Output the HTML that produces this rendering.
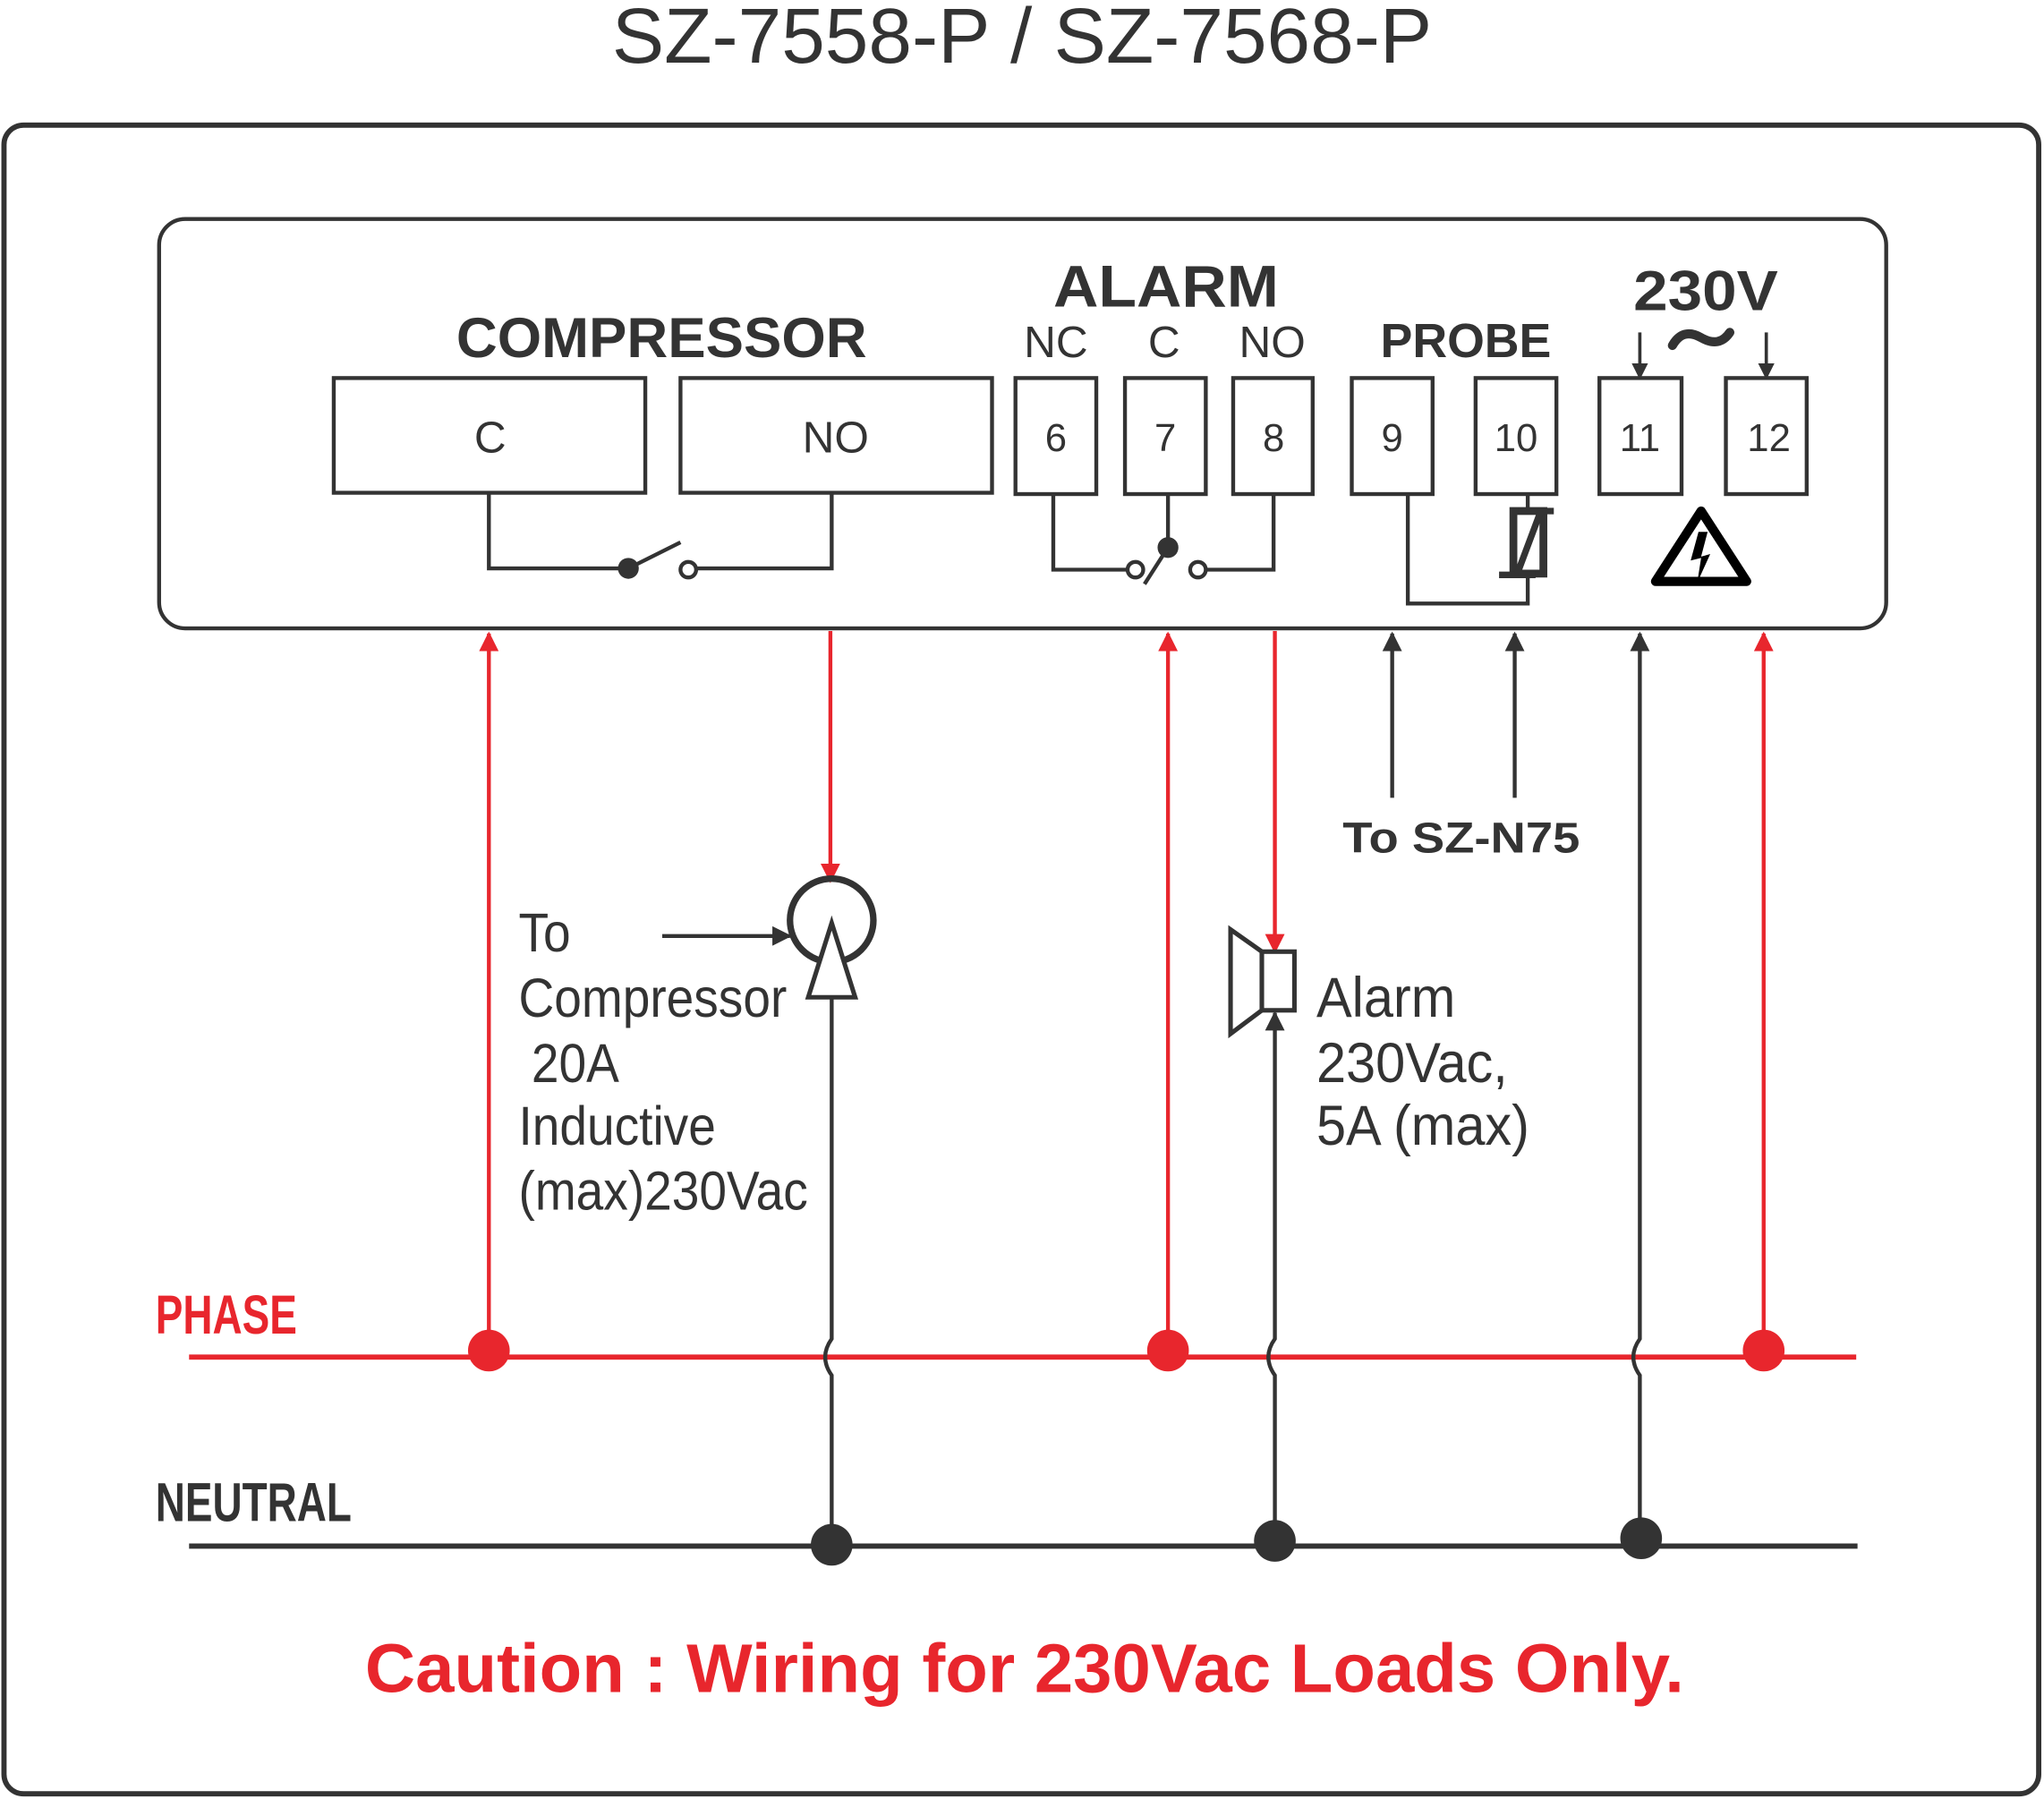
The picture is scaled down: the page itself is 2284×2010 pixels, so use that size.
<!DOCTYPE html>
<html><head><style>html,body{margin:0;padding:0;background:#fff}svg{display:block}</style></head>
<body>
<svg width="2284" height="2010" viewBox="0 0 1568 1380" xmlns="http://www.w3.org/2000/svg" font-family="Liberation Sans, sans-serif">
<defs>
<marker id="ar" viewBox="0 0 10 10" refX="9" refY="5" markerWidth="5" markerHeight="5" orient="auto"><path d="M0,0L10,5L0,10z" fill="#e8262d"/></marker>
<marker id="ab" viewBox="0 0 10 10" refX="9" refY="5" markerWidth="5" markerHeight="5" orient="auto"><path d="M0,0L10,5L0,10z" fill="#333"/></marker>
</defs>
<text x="784" y="48" font-size="60" fill="#333" text-anchor="middle">SZ-7558-P / SZ-7568-P</text>
<rect x="3" y="96" width="1561" height="1280" rx="15" fill="none" stroke="#333" stroke-width="4"/>
<rect x="122" y="168" width="1325" height="314" rx="20" fill="none" stroke="#333" stroke-width="3"/>
<g fill="#333" font-weight="bold">
<text x="350" y="274" font-size="43" textLength="315" lengthAdjust="spacingAndGlyphs">COMPRESSOR</text>
<text x="808" y="235" font-size="45" textLength="173" lengthAdjust="spacingAndGlyphs">ALARM</text>
<text x="1059" y="274" font-size="37" textLength="131" lengthAdjust="spacingAndGlyphs">PROBE</text>
<text x="1253" y="238" font-size="43" textLength="111" lengthAdjust="spacingAndGlyphs">230V</text>
<text x="1030" y="654" font-size="33" textLength="182" lengthAdjust="spacingAndGlyphs">To SZ-N75</text>
</g>
<path d="M1283,265 q8,-14 22,-6 q14,8 22,-4" fill="none" stroke="#333" stroke-width="7" stroke-linecap="round"/>
<g fill="#333" font-size="34" text-anchor="middle">
<text x="810" y="274">NC</text><text x="893" y="274">C</text><text x="976" y="274">NO</text>
<text x="376" y="347">C</text><text x="641" y="347">NO</text>
</g>
<g fill="none" stroke="#333" stroke-width="3">
<rect x="256" y="290" width="239" height="88"/><rect x="522" y="290" width="239" height="88"/>
<rect x="779" y="290" width="62" height="89"/><rect x="863" y="290" width="62" height="89"/>
<rect x="946" y="290" width="61" height="89"/><rect x="1037" y="290" width="62" height="89"/>
<rect x="1132" y="290" width="62" height="89"/><rect x="1227" y="290" width="63" height="89"/>
<rect x="1324" y="290" width="62" height="89"/>
<path d="M375,378V436H482L522,416M535,436H638V378"/>
<circle cx="528" cy="437" r="6"/>
<path d="M808,379V437H865M896,379V420L878,448M925,437H977V379"/>
<circle cx="871" cy="437" r="6"/><circle cx="919" cy="437" r="6"/>
<path d="M1080,379V463H1172V440M1172,379V392"/>
</g>
<circle cx="482" cy="436" r="8" fill="#333"/><circle cx="896" cy="420" r="8" fill="#333"/>
<g stroke="#333" fill="none">
<rect x="1161" y="392" width="23" height="48" stroke-width="6"/>
<path d="M1150,441H1178M1165,392H1192" stroke-width="5"/>
<path d="M1164,440L1182,392" stroke-width="5"/>
</g>
<g fill="#333" font-size="30" text-anchor="middle">
<text x="810" y="346">6</text><text x="894" y="346">7</text><text x="977" y="346">8</text>
<text x="1068" y="346">9</text><text x="1163" y="346">10</text><text x="1258" y="346">11</text><text x="1357" y="346">12</text>
</g>
<g stroke="#333" stroke-width="2.5">
<line x1="1258" y1="255" x2="1258" y2="290" marker-end="url(#ab)"/>
<line x1="1355" y1="255" x2="1355" y2="290" marker-end="url(#ab)"/>
</g>
<path d="M1305,392L1340,446H1270z" fill="none" stroke="#000" stroke-width="7" stroke-linejoin="round"/>
<path d="M1303,408L1297,430L1305,428L1302,447L1312,425L1305,427L1310,408z" fill="#000"/>
<g stroke="#e8262d" stroke-width="3" fill="none">
<line x1="375" y1="1036" x2="375" y2="486" marker-end="url(#ar)"/>
<line x1="896" y1="1036" x2="896" y2="486" marker-end="url(#ar)"/>
<line x1="1353" y1="1036" x2="1353" y2="486" marker-end="url(#ar)"/>
<line x1="637" y1="484" x2="637" y2="676" marker-end="url(#ar)"/>
<line x1="978" y1="484" x2="978" y2="730" marker-end="url(#ar)"/>
<line x1="145" y1="1041" x2="1424" y2="1041" stroke-width="4"/>
</g>
<g fill="#e8262d"><circle cx="375" cy="1036" r="16"/><circle cx="896" cy="1036" r="16"/><circle cx="1353" cy="1036" r="16"/></g>
<g stroke="#333" stroke-width="3" fill="none">
<line x1="1068" y1="612" x2="1068" y2="486" marker-end="url(#ab)"/>
<line x1="1162" y1="612" x2="1162" y2="486" marker-end="url(#ab)"/>
<path d="M1258,1180V1055q-10,-14 0,-28V486" marker-end="url(#ab)"/>
<path d="M638,1185V1055q-10,-14 0,-28V765"/>
<path d="M978,1182V1055q-10,-14 0,-28V777" marker-end="url(#ab)"/>
<line x1="508" y1="718" x2="606" y2="718" marker-end="url(#ab)"/>
<line x1="145" y1="1186" x2="1425" y2="1186" stroke-width="4"/>
<circle cx="638" cy="706" r="32" stroke-width="5"/>
<path d="M638,708L656,765H620z" fill="#fff" stroke-width="3.5"/>
<rect x="968" y="730" width="25" height="45" stroke-width="3.5"/>
<path d="M968,730L944,713V793L968,775" stroke-width="3.5"/>
</g>
<g fill="#333"><circle cx="638" cy="1185" r="16"/><circle cx="978" cy="1182" r="16"/><circle cx="1259" cy="1180" r="16"/></g>
<g font-size="42" fill="#333" transform="scale(0.9,1)">
<text x="442" y="730">To</text><text x="442" y="780">Compressor</text><text x="453" y="830">20A</text>
<text x="442" y="878">Inductive</text><text x="442" y="928">(max)230Vac</text>
</g>
<g font-size="43" fill="#333" transform="scale(0.95,1)">
<text x="1063" y="780">Alarm</text><text x="1063" y="830">230Vac,</text><text x="1063" y="878">5A (max)</text>
</g>
<g font-size="42" font-weight="bold" transform="scale(0.75,1)">
<text x="159" y="1023" fill="#e8262d">PHASE</text>
<text x="159" y="1167" fill="#333">NEUTRAL</text>
</g>
<text x="280" y="1298" font-size="53" font-weight="bold" fill="#e8262d" textLength="1012" lengthAdjust="spacingAndGlyphs">Caution : Wiring for 230Vac Loads Only.</text>
</svg>
</body></html>
